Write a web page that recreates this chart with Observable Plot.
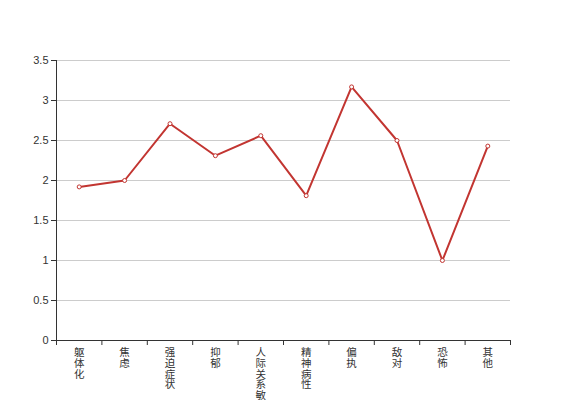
<!DOCTYPE html>
<html>
<head>
<meta charset="utf-8">
<script src="https://cdn.jsdelivr.net/npm/d3@7"></script>
<script src="https://cdn.jsdelivr.net/npm/@observablehq/plot@0.6"></script>
<style>
  html, body { margin: 0; padding: 0; background: #fff; overflow: hidden; }
</style>
</head>
<body>
<div id="chart"></div>
<script>
const categories = ["躯体化", "焦虑", "强迫症状", "抑郁", "人际关系敏感", "精神病性", "偏执", "敌对", "恐怖", "其他"];
const values = [1.92, 2.0, 2.71, 2.31, 2.56, 1.81, 3.17, 2.5, 1.0, 2.43];
const yTicks = [0, 0.5, 1, 1.5, 2, 2.5, 3, 3.5];

const data = categories.map((c, i) => ({cat: c, idx: i + 0.5, value: values[i]}));
const red = "#c23531";

const chart = Plot.plot({
  width: 567,
  height: 400,
  marginLeft: 56,
  marginRight: 57,
  marginTop: 60,
  marginBottom: 60,
  style: {fontFamily: "'Liberation Sans', 'Noto Sans CJK SC', sans-serif", fontSize: "11px", color: "#333", background: "#fff"},
  x: {type: "linear", domain: [0, categories.length], axis: null, label: null},
  y: {domain: [0, 3.5], axis: null, label: null},
  marks: [
    Plot.gridY(yTicks.filter(d => d > 0), {stroke: "#ccc", strokeOpacity: 1, strokeWidth: 1}),
    Plot.axisY({ticks: yTicks, tickSize: 5, tickPadding: 3, stroke: "#333", fill: "#333", tickFormat: d => String(d), fontSize: 11, label: null}),
    Plot.axisX({ticks: d3.range(categories.length + 1), tickSize: 5, tickFormat: () => "", stroke: "#333", label: null}),
    Plot.ruleX([0], {stroke: "#333", strokeWidth: 1}),
    Plot.ruleY([0], {stroke: "#333", strokeWidth: 1}),
    Plot.text(data, {
      x: "idx", y: 0,
      text: d => d.cat.split("").join("\n"),
      dy: 8, lineAnchor: "top", lineHeight: 1.02,
      fontSize: 10.5, fill: "#333",
      fontFamily: "'Noto Sans CJK SC', sans-serif"
    }),
    Plot.line(data, {x: "idx", y: "value", stroke: red, strokeWidth: 2}),
    Plot.dot(data, {x: "idx", y: "value", r: 2, fill: "#fff", stroke: red, strokeWidth: 1})
  ]
});
document.getElementById("chart").appendChild(chart);
</script>
</body>
</html>
